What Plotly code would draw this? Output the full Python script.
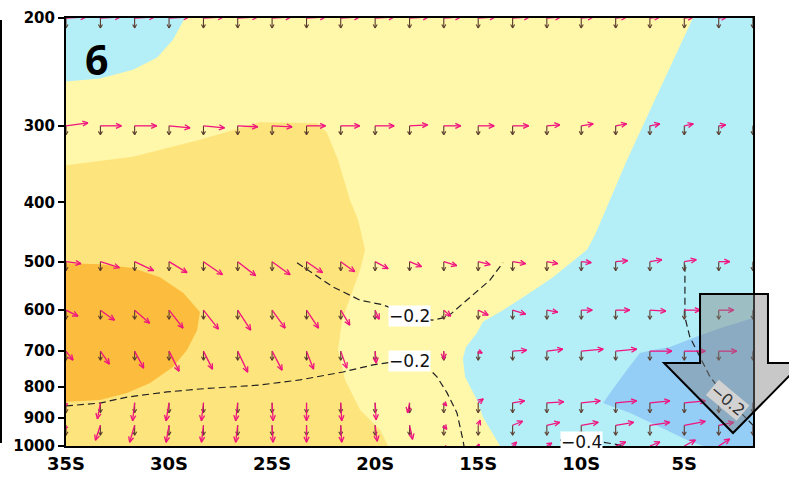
import math
import plotly.graph_objects as go

# ---------------- data ----------------
lats = [-35.0, -33.33, -31.67, -30.0, -28.33, -26.67, -25.0, -23.33, -21.67, -20.0,
        -18.33, -16.67, -15.0, -13.33, -11.67, -10.0, -8.33, -6.67, -5.0, -3.33, -1.67]
levels = [200, 300, 500, 600, 700, 850, 925, 1000]

u_vec = {
    200: [20, 20, 20, 20, 20, 20, 19, 19, 19, 19, 19, 17, 17, 17, 14, 12, 11, 10, 9, 8, 7],
    300: [22, 21, 22, 21, 21, 20, 20, 19, 19, 19, 18, 17, 16, 16, 13, 12, 11, 10, 9, 7, 5],
    500: [15, 19, 19, 18, 19, 18, 18, 16, 14, 13, 12, 13, 12, 13, 11, 10, 12, 12, 12, 11, 10],
    600: [12, 14, 15, 14, 15, 13, 13, 12, 9, 4, 5, 7, 10, 13, 11, 11, 14, 16, 16, 15, 15],
    700: [7, 9, 9, 10, 9, 10, 10, 7, 6, 1, 0, 0, 4, 14, 16, 22, 21, 22, 21, 18, 16],
    850: [-1, -3, -2, -3, -2, -2, 1, 0, 1, 1, -2, 3, 5, 12, 17, 19, 21, 20, 21, 15, 14],
    925: [-2, -5, -5, -3, -2, -2, 1, 0, 1, 2, 3, 3, 2, 10, 13, 17, 18, 20, 21, 15, 14],
    1000: [0, -2, -2, -1, -1, -1, 0, 0, 0, 1, 2, 2, 1, 4, 5, 9, 10, 10, 11, 11, 10],
}
w_vec = {
    200: [-1, -1, -1, -1, -1, -1, -1, -1, -1, -1, -1, -1, -1, -1, -1, -1, -1, -1, -1, -1, -1],
    300: [-3, 0, 0, 2, 2, 1, 1, 0, 0, 0, -1, 0, 0, 0, -1, -2, -2, -2, -2, -1, 0],
    500: [2, 6, 9, 11, 13, 14, 13, 11, 10, 7, 5, 4, 3, 2, 2, 1, -1, -2, -2, 0, 0],
    600: [6, 10, 13, 18, 19, 20, 18, 18, 15, 9, 5, 6, 5, 4, 2, 0, 0, 1, 0, 0, 0],
    700: [9, 13, 17, 20, 18, 21, 19, 18, 17, 12, 10, 8, 2, -1, -2, -2, -2, 0, 0, 0, 0],
    850: [4, 16, 18, 18, 18, 18, 18, 18, 18, 17, 10, 3, -4, -2, -1, -2, -2, -2, -2, -2, -2],
    925: [5, 15, 17, 17, 17, 17, 17, 17, 17, 16, 14, 4, -5, -4, -3, -3, -3, -3, -4, -3, -3],
    1000: [12, 15, 15, 15, 15, 15, 15, 15, 15, 14, 10, 4, -2, -4, -3, -5, -4, -4, -6, -7, -7],
}
w_mean = {200: 10, 300: 9, 500: 9, 600: 9, 700: 9, 850: 10, 925: 10, 1000: 10}

cyanL_lat = [-35, -35, -33.35, -31.75, -30.58, -29.81, -29.23]
cyanL_p = [200, 254, 251, 243, 232, 217, 200]

yellow_lat = [-35, -35, -19.38, -19.76, -20.73, -21.46, -21.80, -21.61, -20.73, -20.49, -20.83,
              -21.22, -21.80, -22.34, -22.82, -25.59, -28.50, -31.75, -35]
yellow_p = [348, 1000, 1000, 942, 873, 780, 697, 623, 516, 478, 427,
            397, 341, 308, 297, 296, 316, 337, 348]

orange_lat = [-35, -33.35, -31.75, -30.44, -29.32, -28.50, -28.64, -29.13, -29.81, -30.92,
              -32.04, -33.35, -35]
orange_p = [503, 505, 512, 530, 562, 604, 647, 697, 743, 789, 819, 841, 847]

cyanR_lat = [-4.58, -5.69, -6.81, -7.78, -8.60, -9.33, -9.72, -11.37, -12.49, -13.80, -14.77,
             -15.06, -15.60, -15.74, -15.64, -15.06, -14.77, -14.43, -13.94, -1.67, -1.67]
cyanR_p = [200, 240, 290, 341, 397, 452, 478, 530, 562, 600, 627,
           654, 690, 720, 771, 841, 897, 940, 1000, 1000, 200]

blue_lat = [-8.94, -8.60, -7.78, -7.15, -6.52, -5.69, -4.58, -3.27, -1.67, -1.67, -4.09,
            -4.87, -6.18, -7.63, -8.94]
blue_p = [851, 819, 751, 705, 697, 689, 666, 642, 618, 1000, 1000, 978, 931, 883, 851]

cA_lat = [-23.79, -22.04, -20.73, -19.62, -18.31, -17.24, -16.51, -15.54, -14.43, -13.80]
cA_p = [502, 550, 578, 588, 613, 623, 616, 578, 536, 502]
cB_lat = [-35, -33.35, -32.04, -30.10, -28.50, -26.90, -25.59, -23.65, -21.56, -20.10,
          -18.55, -17.58, -17.00, -16.51, -16.03, -15.74, -15.69]
cB_p = [860, 851, 832, 816, 807, 801, 795, 780, 757, 737, 724, 737, 771, 819, 883, 978, 1000]
cC_lat = [-4.97, -4.97, -4.73, -4.24, -3.75, -2.88, -1.67]
cC_p = [506, 616, 664, 716, 771, 841, 924]
cD_lat = [-11.03, -8.99, -7.88]
cD_p = [978, 985, 1000]

x_ticks = [-35, -30, -25, -20, -15, -10, -5]
x_ticktext = ["35S", "30S", "25S", "20S", "15S", "10S", "5S"]
y_ticks = [200, 300, 400, 500, 600, 700, 800, 900, 1000]

# ---------------- geometry ----------------
W, H = 789, 477
ML, MR, MT, MB = 66, 36, 18, 31
PW, PH = W - ML - MR, H - MT - MB
XR = [-35, -5 / 3]
LY_TOP, LY_BOT = math.log10(200), math.log10(1000)
DEG_PX = (XR[1] - XR[0]) / PW
DEC_PX = (LY_BOT - LY_TOP) / PH

PINK = "#f0147f"
BROWN = "#5a3c2d"


def arrows(items, head=6.0, ang=26.0):
    xs, ys = [], []
    a = math.radians(ang)
    for lat, p, dx, dy in items:
        L = math.hypot(dx, dy)
        if L < 1.5:
            continue
        ly = math.log10(p)
        hx, hy = lat + dx * DEG_PX, ly + dy * DEC_PX
        xs += [lat, hx, None]
        ys += [p, 10 ** hy, None]
        bx, by = -dx / L, -dy / L
        h = min(head, 0.6 * L + 2)
        for s in (1, -1):
            rx = bx * math.cos(a) - s * by * math.sin(a)
            ry = s * bx * math.sin(a) + by * math.cos(a)
            xs += [hx, hx + h * rx * DEG_PX, None]
            ys += [10 ** hy, 10 ** (hy + h * ry * DEC_PX), None]
    return xs, ys


fig = go.Figure()

for la, pp, col in [(cyanL_lat, cyanL_p, "#b4eff8"), (yellow_lat, yellow_p, "#fee47c"),
                    (orange_lat, orange_p, "#fcbd3e"), (cyanR_lat, cyanR_p, "#b4eff8"),
                    (blue_lat, blue_p, "#94cdf5")]:
    fig.add_trace(go.Scatter(x=la, y=pp, fill="toself", fillcolor=col, mode="lines",
                             line=dict(width=0, color=col), hoverinfo="skip", showlegend=False))

for la, pp in [(cA_lat, cA_p), (cB_lat, cB_p), (cC_lat, cC_p), (cD_lat, cD_p)]:
    fig.add_trace(go.Scatter(x=la, y=pp, mode="lines", line=dict(color="#222", width=1.2, dash="7px,4px"),
                             hoverinfo="skip", showlegend=False))

brown_items, pink_items = [], []
for p in levels:
    for i, lat in enumerate(lats):
        brown_items.append((lat, p, 0, w_mean[p]))
        pink_items.append((lat, p, u_vec[p][i], w_vec[p][i]))

bx, by = arrows(brown_items, head=4, ang=30)
fig.add_trace(go.Scatter(x=bx, y=by, mode="lines", line=dict(color=BROWN, width=1.1),
                         hoverinfo="skip", showlegend=False))
px_, py_ = arrows(pink_items, head=6, ang=25)
fig.add_trace(go.Scatter(x=px_, y=py_, mode="lines", line=dict(color=PINK, width=1.3),
                         hoverinfo="skip", showlegend=False))

lab_font = dict(family="DejaVu Sans", size=17, color="#111")
for x, y, t in [(-18.33, 614, "−0.2"), (-18.33, 727, "−0.2"), (-10.01, 985, "−0.4")]:
    fig.add_annotation(x=x, y=math.log10(y), text=t, showarrow=False, bgcolor="white",
                       borderpad=0, font=lab_font)
fig.add_annotation(x=-2.88, y=math.log10(843), text="−0.2", showarrow=False, bgcolor="#d2d2d2",
                   borderpad=0, textangle=40, font=dict(family="DejaVu Sans", size=16, color="#333"))

fig.add_annotation(xref="paper", yref="paper", x=(96 - ML) / PW, y=(H - MB - 59) / PH,
                   xanchor="center", yanchor="middle",
                   text="<b>6</b>", showarrow=False, font=dict(family="Open Sans", size=41, color="black"))


def P(x, y):
    return f"{(x - ML) / PW:.4f} {(H - MB - y) / PH:.4f}"


path = ("M " + P(700, 294) + " L " + P(768, 294) + " L " + P(768, 363) + " L " + P(802, 363) +
        " L " + P(733, 433) + " L " + P(664, 363) + " L " + P(700, 363) + " Z")
fig.add_shape(type="path", xref="paper", yref="paper", path=path,
              fillcolor="rgba(128,128,128,0.43)", line=dict(color="black", width=2), layer="above")
fig.add_shape(type="line", xref="paper", yref="paper", x0=(1 - ML) / PW, x1=(1 - ML) / PW,
              y0=(H - MB - 443) / PH, y1=(H - MB - 20) / PH, line=dict(color="black", width=2))

fig.update_layout(
    width=W, height=H, margin=dict(l=ML, r=MR, t=MT, b=MB, pad=0, autoexpand=False),
    paper_bgcolor="white", plot_bgcolor="#fff7aa", showlegend=False,
    xaxis=dict(range=XR, tickvals=x_ticks, ticktext=x_ticktext, showgrid=False, zeroline=False,
               showline=True, mirror=True, linecolor="black", linewidth=2, automargin=False,
               ticks="", tickfont=dict(family="DejaVu Sans", size=18, color="black", weight="bold")),
    yaxis=dict(type="log", range=[LY_BOT, LY_TOP], tickvals=y_ticks, ticktext=[str(v) for v in y_ticks],
               showgrid=False, zeroline=False, showline=True, mirror=True, linecolor="black", linewidth=2,
               automargin=False,
               ticks="outside", ticklen=6, tickwidth=2, tickcolor="black",
               tickfont=dict(family="DejaVu Sans", size=15, color="black", weight="bold")),
)

fig.write_html("out.html", config={"displayModeBar": False},
               post_script="document.body.style.margin='0px';document.body.style.overflow='hidden';")
